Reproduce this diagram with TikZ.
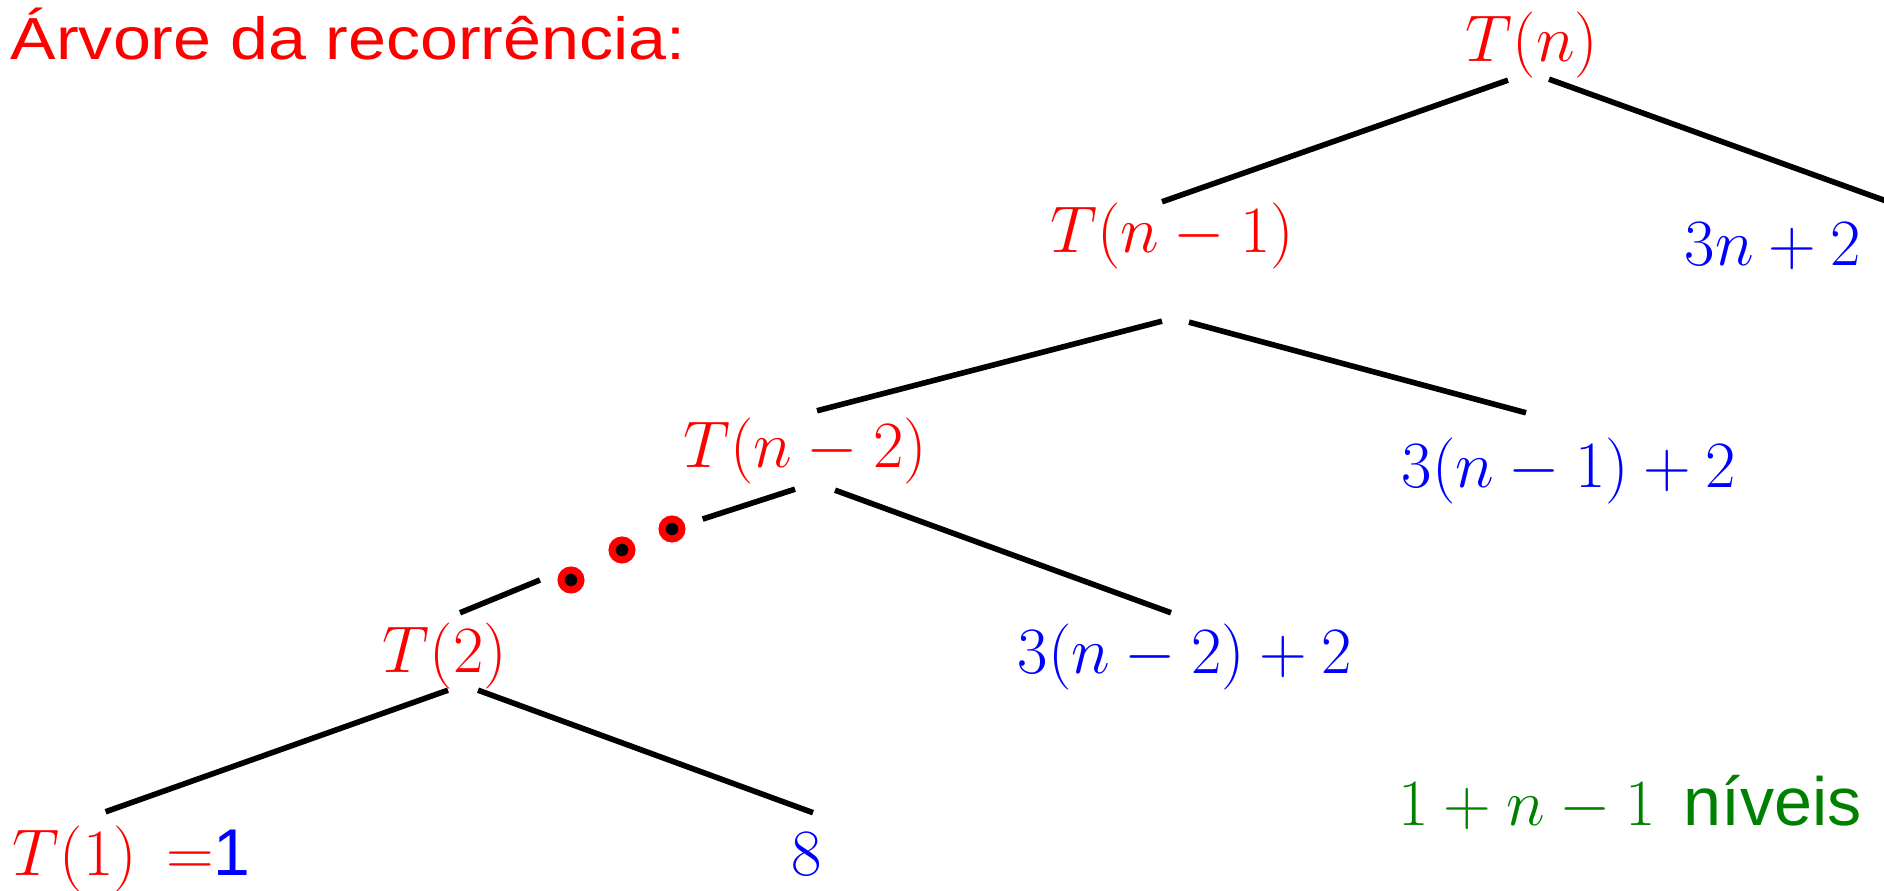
\RequirePackage{fix-cm}
\documentclass[tikz,border=0pt]{standalone}
\usepackage{fontspec}
\setsansfont{Liberation Sans}
\newfontfamily\titlefont[FakeStretch=1.148]{Liberation Sans}

\begin{document}
\begin{tikzpicture}[x=0.01cm,y=-0.01cm,
  lbl/.style={inner sep=0pt,anchor=base,font=\fontsize{18.8}{22}\selectfont},
  rec/.style={lbl,text=red},
  cost/.style={lbl,text=blue},
  edge/.style={line width=1.6pt,black},
  dot/.style={circle,inner sep=0pt,minimum size=0.2cm,fill=black,draw=red,line width=2pt}]
\useasboundingbox (0,0) rectangle (1884,891);
\node[lbl,anchor=base west,text=red,font=\fontsize{16.9}{20}\titlefont] (title) at (10,60) {Árvore da recorrência:};
% recursive calls
\node[rec] (tn)  at (1532,62)  {$T(n)$};
\node[rec] (tn1) at (1172,253) {$T(n-1)$};
\node[rec] (tn2) at (805,468)  {$T(n-2)$};
\node[rec] (t2)  at (445,672)  {$T(2)$};
\node[rec,anchor=base west] (t1) at (12,875) {$T(1)\mkern3mu=$\textcolor{blue}{\textsf{1}}};
% costs per level
\node[cost] (c0) at (1773,265) {$3n+2$};
\node[cost] (c1) at (1569,488) {$3(n-1)+2$};
\node[cost] (c2) at (1185,673) {$3(n-2)+2$};
\node[cost] (c3) at (807,875)  {$8$};
\node[lbl,anchor=base west,text=green!50!black] (lvl) at (1398,825) {$1+n-1$\hspace{0.08cm} {\fontsize{19.4}{22}\sffamily níveis}};
% dots
\node[dot] (d1) at (672,529) {};
\node[dot] (d2) at (622,550) {};
\node[dot] (d3) at (571,580) {};
\coordinate (e0) at (1900,206);
% edges
\draw[edge] ([shift={(-24,1)}]tn.south) -- ([shift={(-10,-1)}]tn1.north);
\draw[edge] ([shift={(17,0)}]tn.south) -- (e0);
\draw[edge] ([shift={(-10,51)}]tn1.south) -- ([shift={(12,-7)}]tn2.north);
\draw[edge] ([shift={(17,52)}]tn1.south) -- ([shift={(-43,-25)}]c1.north);
\draw[edge,shorten >=0.187cm] ([shift={(-10,4)}]tn2.south) -- (d1);
\draw[edge] ([shift={(-31,0)}]d3.center) -- ([shift={(15,-9)}]t2.north);
\draw[edge] ([shift={(30,5)}]tn2.south) -- ([shift={(-14,-10)}]c2.north);
\draw[edge] ([shift={(3,1)}]t2.south) -- ([shift={(-26,-13)}]t1.north);
\draw[edge] ([shift={(33,1)}]t2.south) -- ([shift={(6,-19)}]c3.north);
\end{tikzpicture}
\end{document}
